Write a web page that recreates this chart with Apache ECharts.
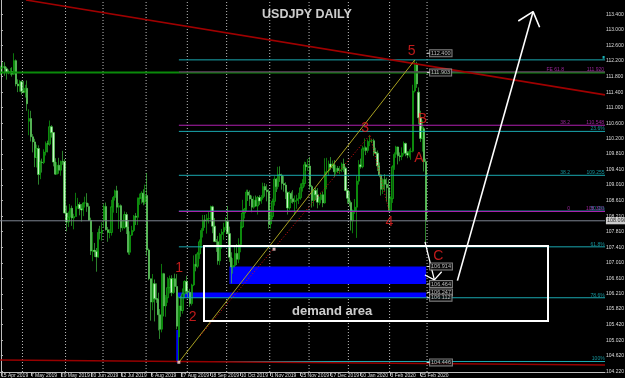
<!DOCTYPE html>
<html><head><meta charset="utf-8">
<script src="https://cdn.jsdelivr.net/npm/echarts@6/dist/echarts.min.js"></script>
<style>html,body{margin:0;padding:0;background:#000}#c{width:625px;height:378px}</style>
</head><body><div id="c"></div>
<script>
// ---- trading days (categories) ----
const tradingDays = {
  '2019-04':[15,16,17,18,19,22,23,24,25,26,29,30],
  '2019-05':[1,2,3,6,7,8,9,10,13,14,15,16,17,20,21,22,23,24,27,28,29,30,31],
  '2019-06':[3,4,5,6,7,10,11,12,13,14,17,18,19,20,21,24,25,26,27,28],
  '2019-07':[1,2,3,4,5,8,9,10,11,12,15,16,17,18,19,22,23,24,25,26,29,30,31],
  '2019-08':[1,2,5,6,7,8,9,12,13,14,15,16,19,20,21,22,23,26,27,28,29,30],
  '2019-09':[2,3,4,5,6,9,10,11,12,13,16,17,18,19,20,23,24,25,26,27,30],
  '2019-10':[1,2,3,4,7,8,9,10,11,14,15,16,17,18,21,22,23,24,25,28,29,30,31],
  '2019-11':[1,4,5,6,7,8,11,12,13,14,15,18,19,20,21,22,25,26,27,28,29],
  '2019-12':[2,3,4,5,6,9,10,11,12,13,16,17,18,19,20,23,24,26,27,30,31],
  '2020-01':[2,3,6,7,8,9,10,13,14,15,16,17,20,21,22,23,24,27,28,29,30,31],
  '2020-02':[3,4,5,6,7,10,11,12,13,14,17,18,19,20,21,24,25,26,27,28]
};
const emptyFutureSlots = 95;

// ---- USDJPY daily OHLC ----
const open = [
112.01,112.03,112.06,112.00,111.92,111.90,111.93,111.86,112.21,111.61,111.56,111.67,
111.42,111.40,111.50,110.65,110.72,110.25,110.12,109.72,109.95,109.28,109.60,109.59,109.86,110.08,110.06,110.51,110.36,109.60,109.29,109.52,109.39,109.62,109.61,
108.29,108.06,108.18,108.41,108.16,108.20,108.46,108.51,108.40,108.37,108.55,108.55,108.46,108.10,107.31,107.33,107.30,107.16,107.79,107.78,
108.10,108.46,107.86,107.79,107.79,108.45,108.69,108.86,108.44,108.48,107.91,107.92,108.25,107.93,107.28,107.72,107.84,108.21,108.18,108.66,108.68,108.80,108.57,
108.74,107.34,106.60,106.00,106.47,106.09,106.07,105.67,105.30,106.73,105.90,106.11,106.37,106.60,106.24,106.60,106.40,105.10,105.90,105.78,106.21,106.53,
106.28,106.25,105.96,106.44,106.97,106.92,107.24,107.55,107.84,108.11,108.09,108.15,108.15,108.45,107.95,107.56,107.55,107.06,107.74,107.80,107.92,
108.07,107.76,107.15,106.90,106.94,107.25,107.10,107.48,107.93,108.29,108.39,108.83,108.75,108.65,108.44,108.62,108.47,108.69,108.60,108.68,108.97,108.88,108.84,
108.01,108.20,108.59,109.16,108.97,109.28,109.26,109.05,109.01,108.82,108.42,108.79,108.66,108.58,108.61,108.66,108.68,108.94,109.05,109.53,109.48,
109.50,108.97,108.61,108.87,108.76,108.57,108.63,108.76,108.55,109.35,109.37,109.55,109.47,109.54,109.35,109.44,109.38,109.40,109.55,109.44,108.87,
108.67,108.56,108.09,108.35,108.44,109.11,109.53,109.48,109.94,109.97,109.90,110.13,110.15,110.15,109.86,109.83,109.50,109.27,108.90,109.15,109.03,108.94,
108.36,108.66,109.48,109.80,109.99,109.76,109.74,109.83,110.08,109.83,109.78,109.87,109.88,111.43,112.11,111.40,110.74,110.21,110.46,109.61
];
const high = [
112.08,112.17,112.17,112.05,111.98,112.02,112.04,112.40,112.24,111.73,111.71,111.70,
111.69,111.59,111.70,110.96,110.92,110.32,110.20,110.05,110.03,109.64,109.69,109.93,110.13,110.15,110.67,110.55,110.37,109.70,109.60,109.71,109.64,109.89,109.68,
108.48,108.33,108.52,108.48,108.27,108.81,108.68,108.57,108.52,108.57,108.71,108.80,108.54,108.17,107.80,107.52,107.39,107.89,107.96,108.05,
108.53,108.56,107.93,107.87,108.63,108.73,108.89,108.99,108.55,108.51,108.10,108.33,108.31,108.11,107.82,107.96,108.24,108.29,108.69,108.79,108.85,108.90,109.02,
109.32,107.38,106.60,106.72,106.58,106.48,106.24,105.82,106.98,106.75,106.18,106.64,106.68,106.69,106.62,106.73,106.72,106.14,106.16,106.35,106.56,106.67,
106.34,106.34,106.47,107.20,107.23,107.29,107.61,107.90,108.24,108.24,108.26,108.34,108.48,108.48,108.16,107.62,107.70,107.78,107.88,108.04,108.18,
108.47,107.94,107.28,107.13,107.45,107.49,107.64,108.07,108.63,108.42,108.89,108.89,108.87,108.74,108.72,108.74,108.73,108.75,108.75,109.07,109.06,109.03,108.90,
108.36,108.66,109.24,109.19,109.48,109.49,109.30,109.24,109.08,108.84,108.85,108.84,108.88,108.74,108.76,108.81,109.05,109.16,109.61,109.60,109.68,
109.73,109.01,108.90,108.94,108.93,108.71,108.82,108.84,109.70,109.71,109.64,109.73,109.64,109.65,109.53,109.50,109.50,109.59,109.69,109.48,108.92,
108.85,108.61,108.38,108.65,109.25,109.65,109.69,110.02,110.21,110.00,110.18,110.29,110.20,110.20,109.97,109.90,109.59,109.28,109.18,109.29,109.20,109.15,
108.72,109.52,109.85,110.02,110.00,109.85,109.98,110.13,110.10,109.88,109.93,109.97,111.59,112.23,112.18,111.52,110.92,110.67,110.51,109.69
];
const low = [
111.84,111.87,111.82,111.72,111.86,111.84,111.80,111.84,111.55,111.40,111.41,111.34,
111.37,111.26,110.92,110.29,110.13,109.85,109.47,109.46,109.02,109.16,109.33,109.55,109.77,109.85,110.02,110.23,109.49,109.27,109.28,109.30,109.25,109.53,108.28,
107.82,107.93,108.10,107.96,107.87,108.20,108.40,108.23,108.07,108.21,108.43,108.32,108.09,107.21,107.05,107.16,106.78,107.14,107.61,107.58,
107.92,107.84,107.55,107.64,107.71,108.30,108.61,108.29,107.88,107.80,107.84,107.88,107.75,107.22,107.21,107.70,107.80,107.98,107.98,108.50,108.53,108.49,108.51,
107.19,106.56,105.52,105.79,105.50,105.98,105.27,105.05,105.22,105.63,105.62,105.98,106.22,106.15,106.21,106.24,105.30,104.45,105.62,105.70,106.10,106.20,
106.10,105.87,105.91,106.41,106.79,106.87,107.11,107.39,107.66,107.91,107.76,108.02,108.07,107.77,107.54,107.29,106.96,106.95,107.37,107.60,107.85,
107.81,107.03,106.48,106.73,106.89,106.95,107.00,107.28,107.90,108.15,108.34,108.60,108.47,108.31,108.40,108.45,108.25,108.50,108.53,108.63,108.71,108.59,107.89,
107.89,108.13,108.48,108.83,108.90,109.09,108.89,108.84,108.65,108.25,108.37,108.55,108.53,108.24,108.40,108.52,108.63,108.84,108.97,109.38,109.37,
108.89,108.43,108.46,108.62,108.41,108.49,108.54,108.44,108.53,108.90,109.25,109.40,109.43,109.22,109.28,109.32,109.29,109.34,109.35,108.85,108.53,
108.46,107.84,107.77,108.27,107.65,109.02,109.43,109.44,109.88,109.78,109.84,110.01,110.09,109.76,109.80,109.37,109.21,108.74,108.78,108.86,108.58,108.31,
108.33,108.55,109.40,109.71,109.54,109.62,109.65,109.77,109.75,109.70,109.72,109.66,109.85,111.39,111.51,110.57,110.12,109.87,109.36,107.50
];
const close = [
112.03,112.06,112.00,111.92,111.90,111.93,111.86,112.21,111.61,111.56,111.67,111.42,
111.40,111.50,111.10,110.72,110.25,110.12,109.72,109.95,109.28,109.60,109.59,109.86,110.08,110.06,110.51,110.36,109.60,109.29,109.52,109.39,109.62,109.61,108.29,
108.06,108.18,108.41,108.16,108.20,108.46,108.51,108.40,108.37,108.55,108.55,108.46,108.10,107.31,107.33,107.30,107.16,107.79,107.78,107.84,
108.46,107.86,107.79,107.79,108.45,108.69,108.86,108.44,108.48,107.91,107.92,108.25,107.93,107.28,107.72,107.84,108.21,108.18,108.66,108.68,108.80,108.57,108.74,
107.34,106.60,106.00,106.47,106.09,106.07,105.67,105.30,106.73,105.90,106.11,106.37,106.60,106.24,106.60,106.40,105.38,105.90,105.78,106.21,106.53,106.28,
106.25,105.96,106.44,106.97,106.92,107.24,107.55,107.84,108.11,108.09,108.15,108.15,108.45,107.95,107.56,107.55,107.06,107.74,107.80,107.92,108.07,
107.76,107.15,106.90,106.94,107.25,107.10,107.48,107.93,108.29,108.39,108.83,108.75,108.65,108.44,108.62,108.47,108.69,108.60,108.68,108.97,108.88,108.84,108.01,
108.20,108.59,109.16,108.97,109.28,109.26,109.05,109.01,108.82,108.42,108.79,108.66,108.58,108.61,108.66,108.68,108.94,109.05,109.53,109.48,109.50,
108.97,108.61,108.87,108.76,108.57,108.63,108.76,108.55,109.35,109.37,109.55,109.47,109.54,109.35,109.44,109.38,109.40,109.55,109.44,108.87,108.67,
108.56,108.09,108.35,108.44,109.11,109.53,109.48,109.94,109.97,109.90,110.13,110.15,110.15,109.86,109.83,109.50,109.27,108.90,109.15,109.03,108.94,108.36,
108.66,109.48,109.80,109.99,109.76,109.74,109.83,110.08,109.83,109.78,109.87,109.88,111.43,112.11,111.61,110.74,110.21,110.46,109.61,108.09
];

// ---- axis ticks ----
const priceTicks = [104.22,104.62,105.02,105.42,105.82,106.21,106.61,107.01,107.41,107.81,108.21,108.61,109.01,109.41,109.81,110.20,110.60,111.00,111.40,111.80,112.20,112.60,113.00,113.40];
const dateLabelEvery = 16;
const lastLabelIndex = 224;
const monthStartIdx = [12,35,55,78,100,121,144,165,186,208,228];

// ---- analysis levels ----
const fibPrices = [112.23,110.39,109.26,108.34,107.42,106.11,104.47];
const fibNames  = ['','23.6%','109.255','50.0%','61.8%','78.6%','100%'];
const fibPrefix = ['','','38.2','','','',''];
const fePrices = [111.92,110.548,108.33];
const feNames  = ['111.920','110.548','108.310'];
const fePrefix = ['FE 61.8','38.2','0'];
const priceTags = [112.400,111.903,106.914,106.464,106.247,106.112,104.446];
const currentPrice = 108.09;
const resistanceLine = 111.905;
const waveLabels = [['5',219.3,112.46],['3',194.4,110.48],['B',225.0,110.71],['A',223.2,109.70],['4',207.4,108.05],['1',95.2,106.87],['2',102.4,105.60],['C',233.5,107.17]];

// ---- build ----
const mon = ['Jan','Feb','Mar','Apr','May','Jun','Jul','Aug','Sep','Oct','Nov','Dec'];
const dates = [];
Object.keys(tradingDays).forEach(k => tradingDays[k].forEach(d => dates.push(k + '-' + String(d).padStart(2,'0'))));
const categories = dates.concat(new Array(emptyFutureSlots).fill(''));
const N = categories.length;
const fmtDate = s => { if(!s) return ''; const p = s.split('-'); return (+p[2]) + ' ' + mon[+p[1]-1] + ' ' + p[0]; };
const showLbl = i => i % dateLabelEvery === 0 && i <= lastLabelIndex;
const candles = dates.map((d,i) => [open[i], close[i], low[i], high[i]]);
const YMIN = 104.2, YMAX = 113.77, XMIN = -0.5, XMAX = N - 0.5;
const FONT = 'Liberation Sans, Arial, sans-serif';

function seg(pts, color, width, type, z){
  return {type:'line', xAxisIndex:1, yAxisIndex:0, data:pts, symbol:'none', silent:true, animation:false,
    lineStyle:{color:color, width:width, type:type||'solid'}, z:z||5};
}
function texts(items, label, z){
  return {type:'scatter', xAxisIndex:1, yAxisIndex:0, symbolSize:0, silent:true, animation:false, z:z||8,
    data: items.map(t => ({value:[t[1], t[2]], label:{formatter:t[0]}})),
    label: Object.assign({show:true, position:'inside', fontFamily:FONT}, label)};
}
const rects = [
  {box:[94.3,106.247,227,106.112], style:{fill:'#0000ff'}},
  {box:[122,106.914,227,106.464], style:{fill:'#0000ff'}},
  {box:[93.6,104.446,94.6,105.28], style:{fill:'#0000ff'}},
  {box:[321.2,112.26,322.3,112.33], style:{fill:'#19b3b8'}}
];
const boxSeries = {
  type:'custom', xAxisIndex:1, yAxisIndex:0, silent:true, animation:false, z:2, clip:true,
  encode:{x:[0,2], y:[1,3]},
  renderItem(params, api){
    const a = api.coord([api.value(0), api.value(1)]);
    const b = api.coord([api.value(2), api.value(3)]);
    return {type:'rect', shape:{x:Math.min(a[0],b[0]), y:Math.min(a[1],b[1]), width:Math.abs(b[0]-a[0]), height:Math.abs(b[1]-a[1])}, style:rects[params.dataIndex].style};
  },
  data: rects.map(r => r.box)
};
const demandBox = {
  type:'custom', xAxisIndex:1, yAxisIndex:0, silent:true, animation:false, z:6,
  encode:{x:[0,2], y:[1,3]},
  renderItem(params, api){
    const a = api.coord([api.value(0), api.value(1)]);
    const b = api.coord([api.value(2), api.value(3)]);
    return {type:'rect', shape:{x:Math.round(a[0]), y:Math.round(a[1]), width:Math.round(b[0]-a[0]), height:Math.round(b[1]-a[1])}, style:{fill:'none', stroke:'#ffffff', lineWidth:2}};
  },
  data: [[108.4,107.43,292.1,105.51]]
};

const series = [];
// month grid lines
monthStartIdx.forEach(i => series.push(seg([[i-0.5,YMIN],[i-0.5,YMAX]], '#bdbdbd', 1, [1,2], 1)));
series.push(boxSeries);
series.push({
  type:'candlestick', xAxisIndex:0, yAxisIndex:0, data:candles, barWidth:'95%', z:3, animation:false, silent:true,
  itemStyle:{color:'#0a5e0a', color0:'#c8f5c8', borderColor:'#12c812', borderColor0:'#4ad84a', borderWidth:0.6}
});
// horizontal levels
series.push(seg([[XMIN,resistanceLine],[XMAX,resistanceLine]], '#0a8a0a', 2, 'solid', 4));
series.push(seg([[XMIN,currentPrice],[XMAX,currentPrice]], '#7c8490', 1, 'solid', 4));
fibPrices.forEach(p => series.push(seg([[95,p],[XMAX,p]], '#1aa8b0', 1, 'solid', 5)));
fePrices.forEach((p,i) => series.push(seg([[95,p],[XMAX,p]], i===0 ? '#7a2a7a' : '#b020b0', 1, 'solid', 5)));
// trend lines
series.push(seg([[13.4,113.77],[322.5,111.33]], '#a00000', 1.6, 'solid', 5));
series.push(seg([[XMIN,104.508],[XMAX,104.38]], '#980000', 1.6, 'solid', 5));
series.push(seg([[95,104.45],[221,112.23]], '#a8a020', 1, 'solid', 5));
series.push(seg([[106.3,105.13],[197,110.30],[207.2,108.34]], '#dd1010', 1, [1,2], 5));
series.push(demandBox);
// arrows
series.push(seg([[243.7,106.55],[284.1,113.47]], '#ffffff', 1.6, 'solid', 7));
series.push(seg([[276.2,113.23],[284.1,113.47],[287.6,113.07]], '#ffffff', 1.6, 'solid', 7));
series.push(seg([[226.4,107.55],[231.4,106.57]], '#ffffff', 1.3, 'solid', 7));
series.push(seg([[226.4,106.695],[231.4,106.57],[235.3,106.78]], '#ffffff', 1.3, 'solid', 7));
// price tag dashes
priceTags.forEach(p => series.push(seg([[227.4,p],[229.1,p]], '#e0e0e0', 1, 'solid', 7)));
// small markers
series.push({type:'scatter', xAxisIndex:1, yAxisIndex:0, symbol:'rect', symbolSize:3, silent:true, z:7,
  itemStyle:{color:'#ffd8d8'}, data:[[145.8,107.36],[95,104.45]]});
// texts
series.push(texts([['USDJPY DAILY',163.4,113.39]], {color:'#ffffff', fontSize:12.5, fontWeight:'bold'}));
series.push(texts([['demand area',176.8,105.75]], {color:'#ffffff', fontSize:13, fontWeight:'bold'}));
series.push(texts(waveLabels, {color:'#ee2222', fontSize:14}));
series.push(texts(priceTags.map(p => [p.toFixed(3), 229.1, p]), {position:'right', distance:0, color:'#e6e6e6', fontSize:5.5, backgroundColor:'#000', borderColor:'#a0a0a0', borderWidth:1, padding:[0,1,0,1]}));
series.push(texts(fibPrices.map((p,i) => [fibNames[i], 322.3, p]).filter(t=>t[0]), {position:[0,0], align:'right', verticalAlign:'bottom', color:'#1ab8c0', fontSize:5}));
series.push(texts(fibPrices.map((p,i) => [fibPrefix[i], 303.8, p]).filter(t=>t[0]), {position:[0,0], align:'right', verticalAlign:'bottom', color:'#1ab8c0', fontSize:5}));
series.push(texts(fePrices.map((p,i) => [feNames[i], 322.0, p]), {position:[0,0], align:'right', verticalAlign:'bottom', color:'#c030c0', fontSize:5}));
series.push(texts(fePrices.map((p,i) => [fePrefix[i], i===0?300.6:303.8, p]), {position:[0,0], align:'right', verticalAlign:'bottom', color:'#c030c0', fontSize:5}));
series.push(texts([[currentPrice.toFixed(3), XMAX-0.05, currentPrice]], {position:'right', distance:1, color:'#000', fontSize:5.5, backgroundColor:'#ffffff', padding:[1,1,0,1]}, 9));

const chart = echarts.init(document.getElementById('c'), null, {renderer:'canvas'});
chart.setOption({
  backgroundColor:'#000000',
  animation:false,
  grid:{left:0, right:20, top:0, bottom:6, containLabel:false, outerBoundsMode:'none'},
  xAxis:[
    {type:'category', data:categories, boundaryGap:true,
     axisLine:{show:true, lineStyle:{color:'#bdbdbd', width:1}},
     axisTick:{show:true, alignWithLabel:true, interval:(i)=>showLbl(i), length:4, lineStyle:{color:'#bdbdbd'}},
     axisLabel:{interval:(i)=>showLbl(i), formatter:(v)=>fmtDate(v), align:'left', margin:1, fontSize:5, color:'#dcdcdc', fontFamily:FONT},
     splitLine:{show:false}},
    {type:'value', min:XMIN, max:XMAX, show:false}
  ],
  yAxis:[{type:'value', position:'right', min:YMIN, max:YMAX,
    axisLine:{show:true, lineStyle:{color:'#bdbdbd', width:1}},
    axisTick:{show:true, customValues:priceTicks, length:2, lineStyle:{color:'#bdbdbd'}},
    axisLabel:{customValues:priceTicks, formatter:(v)=>v.toFixed(3), margin:1, fontSize:5, color:'#dcdcdc', fontFamily:FONT},
    splitLine:{show:false}}],
  series:series
});
</script></body></html>
